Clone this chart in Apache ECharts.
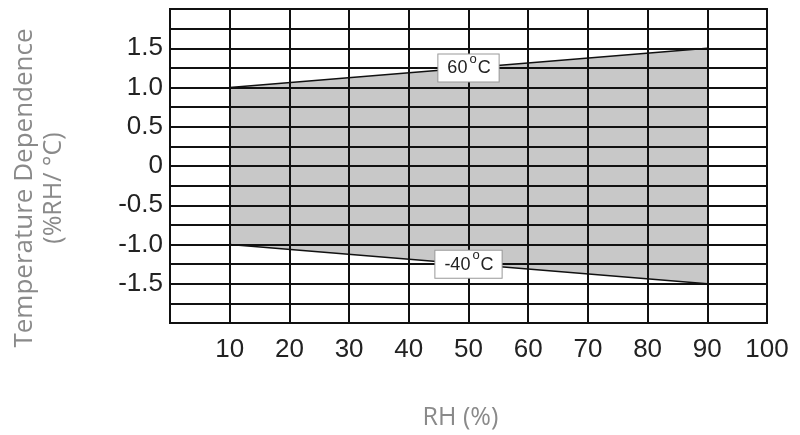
<!DOCTYPE html>
<html>
<head>
<meta charset="utf-8">
<script src="https://cdn.jsdelivr.net/npm/echarts@6/dist/echarts.min.js"></script>
<style>
	html, body { margin: 0; padding: 0; background: #fff; }
	#chart { width: 800px; height: 435px; }
</style>
</head>
<body>
<div id="chart"></div>
<script>
// RH (%) where the band starts and ends
var rhPoints = [10, 90];
// 60°C edge and -40°C edge of the band
var upperValues = [1.0, 1.5];
var lowerValues = [-1.0, -1.5];
var upperName = "60";
var lowerName = "-40";

var xTickLabels = ["10", "20", "30", "40", "50", "60", "70", "80", "90", "100"];
var yTickLabels = ["-1.5", "-1.0", "-0.5", "0", "0.5", "1.0", "1.5"];

var myChart = echarts.init(document.getElementById("chart"));

function pairs(xs, ys) {
	return xs.map(function (x, i) {
		return [x, ys[i]];
	});
}

function midPoint(ys) {
	return [
		(rhPoints[0] + rhPoints[rhPoints.length - 1]) / 2,
		(ys[0] + ys[ys.length - 1]) / 2,
	];
}

// 温度标签, 上标 o
function tempLabel(name) {
	return "{n|" + name + "}{s|o}{n|C}";
}

var labelStyle = {
	show: true,
	position: "inside",
	backgroundColor: "#fff",
	borderColor: "#999",
	borderWidth: 1,
	padding: [5, 8, 4, 9],
	formatter: "",
	rich: {
		n: {
			fontFamily: "Liberation Sans",
			fontSize: 18,
			color: "#222",
			lineHeight: 18,
		},
		s: {
			// padding 底部把 o 抬高
			fontFamily: "Liberation Sans",
			fontSize: 13,
			color: "#222",
			lineHeight: 1,
			padding: [0, 1, 18, 2],
		},
	},
};

var option = {
	animation: false,
	backgroundColor: "#fff",
	grid: {
		left: 170,
		right: 33,
		top: 9,
		bottom: 110,
		show: true,
		borderColor: "#111",
		borderWidth: 2,
		backgroundColor: "transparent",
	},
	xAxis: {
		type: "value",
		min: 0,
		max: 100,
		interval: 10,
		name: "RH (%)",
		nameLocation: "middle",
		nameGap: 82,
		nameTextStyle: {
			fontFamily: "Open Sans",
			fontSize: 25,
			color: "#8a8a8a",
			padding: [0, 16, 0, 0],
		},
		axisLine: { show: false },
		axisTick: { show: false },
		axisLabel: {
			margin: 14,
			fontFamily: "Liberation Sans",
			fontSize: 26,
			color: "#222",
			formatter: function (v) {
				var s = String(v);
				return xTickLabels.indexOf(s) >= 0 ? s : "";
			},
		},
		splitLine: {
			show: true,
			lineStyle: { color: "#111", width: 2 },
		},
	},
	yAxis: {
		type: "value",
		min: -2,
		max: 2,
		interval: 0.25,
		name: "{a|Temperature Dependence}\n{b|(%RH/ °C)}",
		nameLocation: "middle",
		nameRotate: 90,
		nameGap: 102,
		nameTextStyle: {
			color: "#8a8a8a",
			padding: [0, 44, 0, 0],
			rich: {
				a: {
					fontFamily: "Open Sans",
					fontSize: 26,
					color: "#8a8a8a",
					lineHeight: 30,
				},
				b: {
					fontFamily: "Open Sans",
					fontSize: 25,
					color: "#8a8a8a",
					lineHeight: 28,
				},
			},
		},
		axisLine: { show: false },
		axisTick: { show: false },
		axisLabel: {
			margin: 7,
			fontFamily: "Liberation Sans",
			fontSize: 26,
			color: "#222",
			formatter: function (v) {
				for (var i = 0; i < yTickLabels.length; i++) {
					if (Math.abs(parseFloat(yTickLabels[i]) - v) < 1e-6) {
						return yTickLabels[i];
					}
				}
				return "";
			},
		},
		splitLine: {
			show: true,
			lineStyle: { color: "#111", width: 2 },
		},
	},
	series: [
		{
			// 灰色区域, 放在网格线下面
			type: "custom",
			z: -1,
			silent: true,
			data: [0],
			renderItem: function (params, api) {
				var pts = [];
				for (var i = 0; i < rhPoints.length; i++) {
					pts.push(api.coord([rhPoints[i], upperValues[i]]));
				}
				for (var j = rhPoints.length - 1; j >= 0; j--) {
					pts.push(api.coord([rhPoints[j], lowerValues[j]]));
				}
				return {
					type: "polygon",
					shape: { points: pts },
					style: { fill: "#c8c8c8" },
				};
			},
		},
		{
			type: "line",
			data: pairs(rhPoints, upperValues),
			symbol: "none",
			lineStyle: { color: "#111", width: 1.5 },
			markPoint: {
				symbol: "rect",
				symbolSize: 0,
				label: Object.assign({}, labelStyle, {
					formatter: tempLabel(upperName),
				}),
				data: [{ coord: midPoint(upperValues) }],
			},
		},
		{
			type: "line",
			data: pairs(rhPoints, lowerValues),
			symbol: "none",
			lineStyle: { color: "#111", width: 1.5 },
			markPoint: {
				symbol: "rect",
				symbolSize: 0,
				label: Object.assign({}, labelStyle, {
					formatter: tempLabel(lowerName),
				}),
				data: [{ coord: midPoint(lowerValues) }],
			},
		},
	],
};

myChart.setOption(option);
</script>
</body>
</html>
